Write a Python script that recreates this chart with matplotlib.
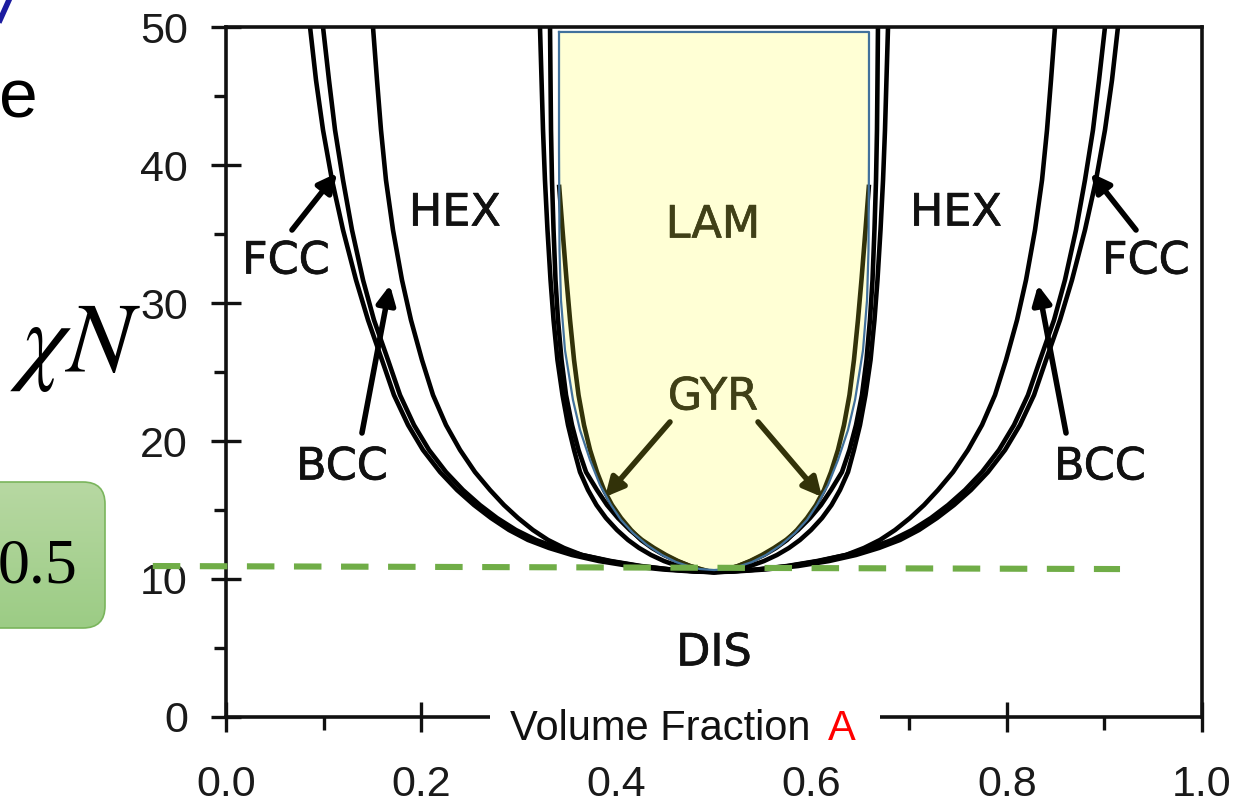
import matplotlib.pyplot as plt
import numpy as np
from matplotlib.patches import FancyBboxPatch, Rectangle
import matplotlib.patheffects as pe

# phase boundaries of the diblock copolymer diagram, left half (f <= 0.5)
# the right half is the mirror image f -> 1 - f
chi_pts = [50.0, 46.16, 42.54, 38.91, 35.29, 31.67, 28.77, 25.87, 23.33, 21.16, 19.35, 17.75,
           16.45, 15.36, 14.42, 13.55, 12.83, 12.25, 11.74, 11.30, 10.94, 10.69, 10.54, 10.5]

odt_f = [0.0861, 0.0922, 0.0994, 0.1086, 0.1199, 0.1332, 0.1455, 0.1598, 0.1721, 0.1865,
         0.2018, 0.2193, 0.2367, 0.2541, 0.2715, 0.2900, 0.3094, 0.3309, 0.3545, 0.3822,
         0.4139, 0.4477, 0.4795, 0.5]
fcc_bcc_f = [0.0994, 0.1055, 0.1117, 0.1199, 0.1291, 0.1404, 0.1516, 0.1660, 0.1783, 0.1926,
             0.2080, 0.2254, 0.2428, 0.2602, 0.2777, 0.2971, 0.3176, 0.3402, 0.3648, 0.3924,
             0.4232, 0.4549, 0.4846, 0.5]
bcc_hex_f = [0.1506, 0.1547, 0.1588, 0.1639, 0.1711, 0.1803, 0.1895, 0.2008, 0.2121, 0.2254,
             0.2398, 0.2551, 0.2705, 0.2848, 0.2992, 0.3145, 0.3299, 0.3463, 0.3648, 0.3945,
             0.4252, 0.4559, 0.4857, 0.5]
hex_gyr_f = [0.3217, 0.3233, 0.3248, 0.3268, 0.3294, 0.3325, 0.3356, 0.3396, 0.3448, 0.3504,
             0.3566, 0.3627, 0.3709, 0.3796, 0.3893, 0.4006, 0.4119, 0.4232, 0.4355, 0.4488,
             0.4631, 0.4775, 0.4908, 0.5]
gyr2_f = [0.3320, 0.3325, 0.3330, 0.3340, 0.3356, 0.3376, 0.3402, 0.3438, 0.3484, 0.3545,
          0.3612, 0.3689, 0.3801, 0.3904, 0.4016, 0.4139, 0.4262, 0.4385, 0.4508, 0.4631,
          0.4754, 0.4867, 0.4949, 0.5]
# GYR/LAM boundary, visible only below chi N ~ 38
gyr_lam_f = [0.3414, 0.3448, 0.3489, 0.3525, 0.3566, 0.3612, 0.3668, 0.3730, 0.3801, 0.3873,
             0.3955, 0.4047, 0.4150, 0.4252, 0.4365, 0.4488, 0.4621, 0.4754, 0.4877, 0.4959, 0.5]
gyr_lam_chi = [38.41, 35.29, 31.67, 28.77, 25.87, 23.33, 21.16, 19.35, 17.75, 16.45,
               15.36, 14.42, 13.55, 12.83, 12.25, 11.74, 11.30, 10.94, 10.69, 10.54, 10.5]

# highlighted LAM region (yellow, blue outline), left half
lam_f = [0.3412, 0.3412, 0.3417, 0.3432, 0.3473, 0.3555, 0.3627, 0.3730, 0.3832, 0.3945,
         0.4047, 0.4170, 0.4314, 0.4467, 0.4611, 0.4764, 0.4857, 0.5]
lam_chi = [49.64, 41.09, 33.84, 30.22, 26.59, 22.97, 20.80, 18.62, 16.81, 15.36,
           14.28, 13.33, 12.46, 11.74, 11.23, 10.87, 10.72, 10.65]

# phase labels
labels = ["FCC", "HEX", "LAM", "HEX", "FCC", "BCC", "BCC", "GYR", "DIS"]
label_f = [0.0615, 0.2346, 0.499, 0.748, 0.9426, 0.1189, 0.8955, 0.499, 0.5]
label_chi = [33.04, 36.52, 35.65, 36.52, 33.04, 18.12, 18.12, 23.19, 4.64]

# arrows (tail -> tip)
arrow_tail = [(0.0676, 35.29), (0.9324, 35.29), (0.1393, 20.58), (0.8607, 20.58),
              (0.4549, 21.38), (0.5451, 21.38)]
arrow_tip = [(0.1137, 39.42), (0.8863, 39.42), (0.168, 31.3), (0.832, 31.3),
             (0.3883, 15.94), (0.6107, 15.94)]

# green dashed line (chi N ~ 10.5)
dash_f = [-0.075, 0.916]
dash_chi = [10.94, 10.72]

xticks = [0.0, 0.2, 0.4, 0.6, 0.8, 1.0]
yticks = [0, 10, 20, 30, 40, 50]


def full(f, c):
    # add the mirrored right half
    ff = list(f) + [1 - v for v in reversed(f[:-1])]
    cc = list(c) + list(reversed(c[:-1]))
    return ff, cc


fig = plt.figure(figsize=(12.34, 8.05), dpi=100)
ax = fig.add_axes([226 / 1234, 1 - 717 / 805, 976 / 1234, 690 / 805])
ax.set_xlim(0, 1)
ax.set_ylim(0, 50)

lw = 3.3
for f, c in [(odt_f, chi_pts), (fcc_bcc_f, chi_pts), (bcc_hex_f, chi_pts),
             (hex_gyr_f, chi_pts), (gyr2_f, chi_pts), (gyr_lam_f, gyr_lam_chi)]:
    ff, cc = full(f, c)
    ax.plot(ff, cc, color="black", lw=lw, solid_joinstyle="round", zorder=2)

# labels and arrows
for t, x, y in zip(labels, label_f, label_chi):
    ax.text(x, y, t, ha="center", va="center", fontsize=32, color="#111111",
            family="DejaVu Sans", zorder=3,
            path_effects=[pe.withStroke(linewidth=0.5, foreground="#111111")])
for (x0, y0), (x1, y1) in zip(arrow_tail, arrow_tip):
    ax.annotate("", xy=(x1, y1), xytext=(x0, y0),
                arrowprops=dict(arrowstyle="-|>", lw=4, color="black",
                                mutation_scale=28, shrinkA=0, shrinkB=0), zorder=3)

# yellow highlight on top
lf, lc = full(lam_f, lam_chi)
ax.fill(lf, lc, color="#ffff30", alpha=0.2, lw=0, zorder=4)
ax.plot(lf + [lf[0]], lc + [lc[0]], color="#41719c", lw=1.6, zorder=4)

ax.plot(dash_f, dash_chi, color="#70ad47", lw=4.4, linestyle=(0, (4.5, 3.2)),
        clip_on=False, zorder=6)

# axes styling
for s in ax.spines.values():
    s.set_linewidth(2.6)
    s.set_color("#111111")
ax.set_xticks(xticks)
ax.set_xticklabels(["%.1f" % v for v in xticks])
ax.set_yticks(yticks)
ax.set_xticks(np.arange(0.1, 1.0, 0.2), minor=True)
ax.set_yticks(np.arange(5, 50, 10), minor=True)
ax.tick_params(which="major", direction="inout", length=21, width=2.4, color="#111111",
               labelsize=31, labelcolor="#1a1a1a")
ax.tick_params(which="minor", direction="out", length=9, width=2.4, color="#111111")
ax.tick_params(axis="x", which="major", pad=24)
ax.tick_params(axis="y", which="major", pad=17)
for lab in ax.get_xticklabels() + ax.get_yticklabels():
    lab.set_family("Liberation Sans")

# slide overlay in pixel coordinates
ov = fig.add_axes([0, 0, 1, 1], zorder=5)
ov.axis("off")
ov.patch.set_alpha(0)

# green rounded box with 0.5
box = FancyBboxPatch((-80, 482), 185, 146, boxstyle="round,pad=0,rounding_size=22",
                     facecolor="none", edgecolor="#7ab55c", lw=1.2, zorder=2)
ov.add_patch(box)
grad = np.linspace(0, 1, 100).reshape(-1, 1)
top = np.array([183, 216, 162]) / 255
bot = np.array([156, 204, 133]) / 255
img = top + (bot - top) * grad[:, :, None]
im = ov.imshow(img, extent=(-80, 105, 628, 482), aspect="auto", zorder=1)
im.set_clip_path(box)
ov.set_xlim(0, 1234)
ov.set_ylim(805, 0)
ov.text(78, 582, "0.5", fontsize=46, family="Liberation Serif", va="baseline",
        ha="right", color="black", zorder=3)

# white box hiding part of the x axis, with the axis title
ov.add_patch(Rectangle((490, 698), 390, 52, facecolor="white", edgecolor="none"))
ov.text(510, 740, "Volume Fraction", fontsize=30, family="Liberation Sans",
        color="#111111", va="baseline", ha="left")
ov.text(828, 740, "A", fontsize=30, family="Liberation Sans", color="red",
        va="baseline", ha="left")

# chi N
ov.text(10, 372, r"$\chi N$", fontsize=72, math_fontfamily="stix",
        va="baseline", ha="left", color="black")

# pieces of the slide at the top left
ov.text(38, 117, "e", fontsize=50, family="Liberation Sans", va="baseline",
        ha="right", color="black")
ov.plot([0, 9], [20, 0], color="#1c1ca0", lw=4)

fig.savefig("out.png", dpi=100)
